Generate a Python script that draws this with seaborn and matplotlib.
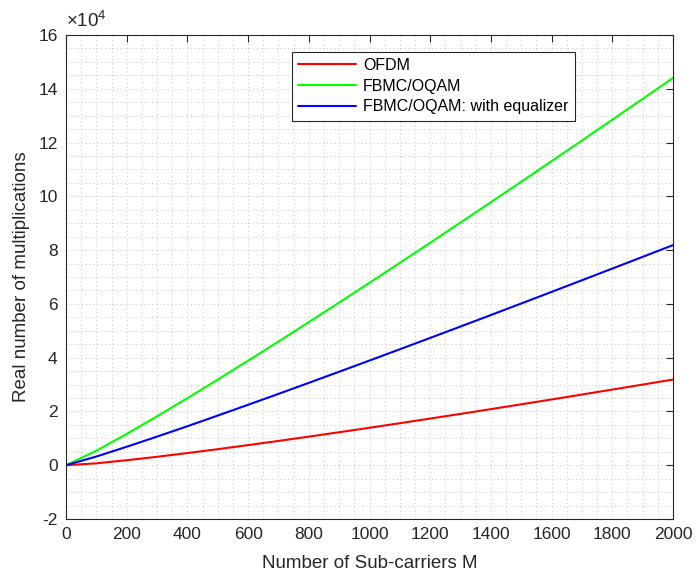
import numpy as np
import pandas as pd
import matplotlib
matplotlib.use("Agg")
import matplotlib.pyplot as plt
import seaborn as sns
from matplotlib.ticker import MultipleLocator, FuncFormatter

M = [0, 100, 200, 300, 400, 500, 600, 700, 800, 900, 1000,
     1100, 1200, 1300, 1400, 1500, 1600, 1700, 1800, 1900, 2000]
ofdm = [0, 700, 1860, 3140, 4520, 5970, 7480, 9030, 10630, 12270, 13930,
        15630, 17350, 19090, 20860, 22650, 24460, 26290, 28130, 29990, 31860]
fbmc = [0, 5400, 11640, 18190, 24940, 31850, 38880, 46000, 53220, 60500, 67860,
        75270, 82740, 90260, 97830, 105440, 113090, 120770, 128500, 136250, 144040]
fbmc_eq = [0, 3230, 6860, 10640, 14500, 18470, 22480, 26530, 30630, 34770, 38930,
           43130, 47350, 51590, 55860, 60150, 64460, 68790, 73130, 77490, 81860]
series_names = ["OFDM", "FBMC/OQAM", "FBMC/OQAM: with equalizer"]
xticks = [0, 200, 400, 600, 800, 1000, 1200, 1400, 1600, 1800, 2000]
yticks = [-20000, 0, 20000, 40000, 60000, 80000, 100000, 120000, 140000, 160000]

df = pd.DataFrame({
    "M": M * 3,
    "val": ofdm + fbmc + fbmc_eq,
    "series": [series_names[0]] * len(M) + [series_names[1]] * len(M) + [series_names[2]] * len(M),
})

sns.set_style("white")
plt.rcParams['font.family'] = ['Liberation Sans', 'DejaVu Sans']
plt.rcParams['mathtext.fontset'] = 'custom'
plt.rcParams['mathtext.rm'] = 'Liberation Sans'
plt.rcParams['mathtext.it'] = 'Liberation Sans'
plt.rcParams['axes.unicode_minus'] = False

axcol = '#262626'
fig = plt.figure(figsize=(6.96, 5.74), dpi=100)
ax = fig.add_axes([66/696, 1-519/574, (673-66)/696, (519-35)/574])

sns.lineplot(data=df, x="M", y="val", hue="series", hue_order=series_names,
             palette=["#ff0000", "#00ff00", "#0000ff"], linewidth=1.5, ax=ax)

ax.set_xlim(0, 2000)
ax.set_ylim(-20000, 160000)
ax.set_xticks(xticks)
ax.set_yticks(yticks)
ax.xaxis.set_minor_locator(MultipleLocator(50))
ax.yaxis.set_minor_locator(MultipleLocator(5000))
ax.yaxis.set_major_formatter(FuncFormatter(lambda v, p: f"{v/1e4:g}"))
ax.text(0.0, 1.008, r"$\times10^{4}$", transform=ax.transAxes, ha='left', va='bottom',
        fontsize=13.5, color=axcol)

ax.grid(True, which='both', color='#c4c4c4', linestyle=(0, (1, 3)), linewidth=0.7)
ax.set_axisbelow(True)
ax.tick_params(which='major', direction='in', top=True, right=True, length=5,
               width=0.8, color=axcol, labelcolor=axcol, labelsize=12.5, pad=6)
ax.tick_params(which='minor', length=0, top=True, right=True)
for s in ax.spines.values():
    s.set_color(axcol)
    s.set_linewidth(0.8)

ax.set_xlabel("Number of Sub-carriers M", fontsize=13.5, color=axcol, labelpad=9)
ax.set_ylabel("Real number of multiplications", fontsize=13.5, color=axcol, labelpad=6)

leg = ax.legend(loc='upper left', bbox_to_anchor=(0.372, 0.9655), fontsize=11.5,
                frameon=True, fancybox=False, edgecolor=axcol, handlelength=3.6,
                handletextpad=0.45, borderpad=0.4, labelspacing=0.35,
                framealpha=1.0, borderaxespad=0)
leg.get_frame().set_linewidth(0.8)
for t in leg.get_texts():
    t.set_color('black')

fig.savefig("out.png", dpi=100)
